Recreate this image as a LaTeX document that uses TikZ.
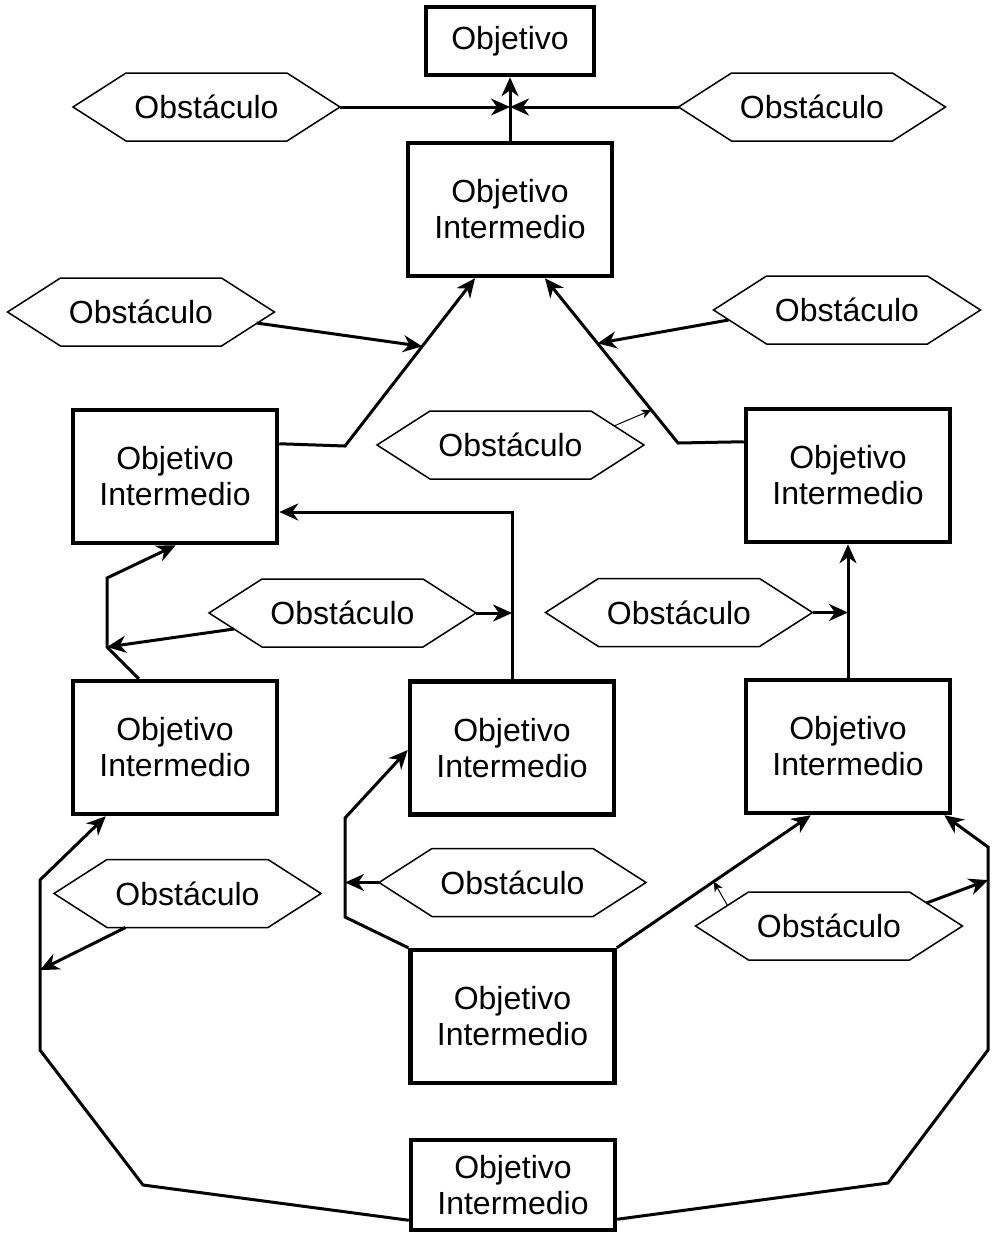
\documentclass[tikz,border=0pt]{standalone}
\usepackage{fontspec}
\setmainfont{Liberation Sans}
\usetikzlibrary{calc,arrows.meta}
\begin{document}
\begin{tikzpicture}[x=0.5pt,y=-0.5pt,
  lbl/.style={font=\fontsize{16}{18}\selectfont, align=center, inner sep=0pt},
  goal/.style={lbl, draw, line width=2.25pt, minimum width=84pt, minimum height=34pt},
  mid/.style={lbl, draw, line width=2.25pt, minimum width=102pt, minimum height=66.5pt},
  hexo/.style={lbl, outer sep=0pt, minimum width=133.5pt, minimum height=34pt},
  hexline/.style={line width=0.75pt, line join=miter},
  conn/.style={line width=1.5pt, -{Stealth[length=9.5pt,width=8.5pt,inset=3pt]}},
  thinconn/.style={line width=0.5pt, -{Stealth[length=5pt,width=4.5pt,inset=1.5pt]}}]
\useasboundingbox (0,0) rectangle (996,1233);

% goal boxes
\node[goal] (top) at (510,41) {Objetivo};
\node[mid] (oi1) at (510,209.5) {Objetivo\\Intermedio};
\node[mid] (l1)  at (175,476.5) {Objetivo\\Intermedio};
\node[mid] (r1)  at (848,475.5) {Objetivo\\Intermedio};
\node[mid] (l2)  at (175,747.5) {Objetivo\\Intermedio};
\node[mid] (m2)  at (512,748)   {Objetivo\\Intermedio};
\node[mid] (r2)  at (848,746.5) {Objetivo\\Intermedio};
\node[mid] (m3)  at (512.5,1016.5) {Objetivo\\Intermedio};
\node[mid, minimum height=45pt] (bot) at (513,1185) {Objetivo\\Intermedio};

% obstacles
\node[hexo] (h1)  at (206.5,107) {Obstáculo};
\node[hexo] (h2)  at (812,107)   {Obstáculo};
\node[hexo] (h3)  at (141,312)   {Obstáculo};
\node[hexo] (h4)  at (847,310)   {Obstáculo};
\node[hexo] (h5)  at (510.5,445) {Obstáculo};
\node[hexo] (h6)  at (342.5,613) {Obstáculo};
\node[hexo] (h7)  at (679,612.5) {Obstáculo};
\node[hexo] (h8)  at (187.5,893.5) {Obstáculo};
\node[hexo] (h9)  at (512.5,882.5) {Obstáculo};
\node[hexo] (h10) at (829,926)   {Obstáculo};
\foreach \h in {h1,h2,h3,h4,h5,h6,h7,h8,h9,h10}
  \draw[hexline] (\h.west) -- ($(\h.north west)+(53,0)$) -- ($(\h.north east)+(-53,0)$)
    -- (\h.east) -- ($(\h.south east)+(-53,0)$) -- ($(\h.south west)+(53,0)$) -- cycle;

% bend points
\coordinate (j1) at (510,107);
\coordinate (b4) at (345,446);
\coordinate (b5) at (678,443);
\coordinate (b9) at (512,512);
\coordinate (b11a) at (107,647);
\coordinate (b11b) at (107,578);
\coordinate (b15a) at (143,1185);
\coordinate (b15b) at (40,1050);
\coordinate (b15c) at (40,880);
\coordinate (b17a) at (345,917);
\coordinate (b17b) at (345,818);
\coordinate (b21a) at (888,1183);
\coordinate (b21b) at (988,1050);
\coordinate (b21c) at (988,847);

% top level
\draw[conn] (oi1.north) -- (top.south);
\draw[conn] (h1.east) -- (j1);
\draw[conn] (h2.west) -- (j1);

% second level
\draw[conn] ($(l1.north east)+(0,36)$) -- (b4) -- ($(oi1.south)+(-35,0)$) coordinate[pos=0.594] (m4);
\draw[conn] ($(r1.north west)+(0,35)$) -- (b5) -- ($(oi1.south)+(35,0)$)
  coordinate[pos=0.605] (m5) coordinate[pos=0.2] (m5b);
\draw[conn] ($(h3.east)+(-18,11)$) -- (m4);
\draw[conn] ($(h4.west)+(15,10)$) -- (m5);
\draw[thinconn] ($(h5.east)+(-30,-19)$) -- (m5b);

% third level
\draw[conn] (m2.north) -- (b9) -- (l1.east |- b9);
\draw[conn] (h6.east) -- (h6.east -| b9);
\draw[conn] ($(l2.north west)+(68,0)$) -- (b11a) -- (b11b) -- ($(l1.south west)+(105,0)$);
\draw[conn] ($(h6.west)+(25,16)$) -- (b11a);
\draw[conn] (r2.north) -- (r1.south);
\draw[conn] (h7.east) -- (h7.east -| r2.north);

% lower levels
\draw[conn] ($(bot.south west)+(0,-12)$) -- (b15a) -- (b15b) -- (b15c) coordinate[pos=0.47] (m15)
  -- ($(l2.south west)+(35,0)$);
\draw[conn] ($(h8.south)+(-62,0)$) -- (m15);
\draw[conn] (m3.north west) -- (b17a) -- (b17b) -- ($(m2.west)+(0,2)$);
\draw[conn] (h9.west) -- (h9.west -| b17a);
\draw[conn] (m3.north east) -- ($(r2.south west)+(67,0)$) coordinate[pos=0.5] (m19);
\draw[thinconn] ($(h10.west)+(32,-20.5)$) -- (m19);
\draw[conn] ($(bot.south east)+(0,-13)$) -- (b21a) -- (b21b) -- (b21c) coordinate[pos=0.837] (m21)
  -- ($(r2.south east)+(-8,0)$);
\draw[conn] ($(h10.east)+(-36,-23)$) -- (m21);
\end{tikzpicture}
\end{document}
